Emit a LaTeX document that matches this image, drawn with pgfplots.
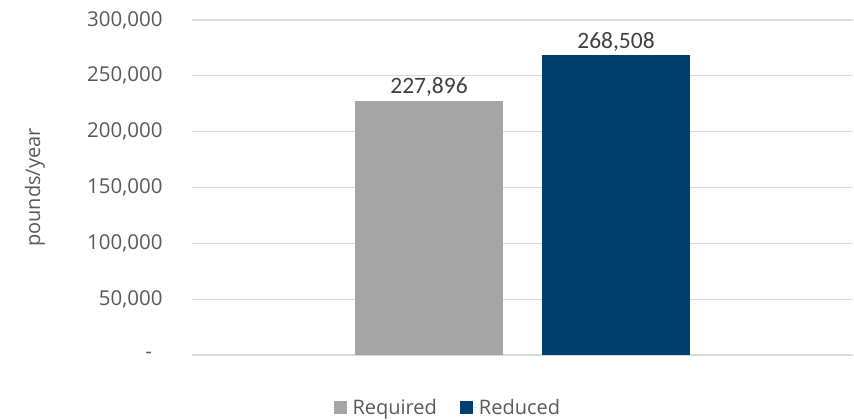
\documentclass[border=0pt]{standalone}
\usepackage{pgfplots}
\pgfplotsset{compat=1.18}
\usepackage{fontspec}
\setmainfont{Open Sans}
\newfontfamily\labfont{Carlito}
\definecolor{reqgray}{HTML}{A5A5A5}
\definecolor{redblue}{HTML}{003F6E}
\definecolor{gridc}{HTML}{D9D9D9}
\definecolor{txt}{HTML}{595959}
\definecolor{lab}{HTML}{404040}
\begin{document}
\begin{tikzpicture}[x=1pt,y=1pt]
\useasboundingbox (0,0) rectangle (854,420);
\begin{axis}[
  at={(192pt,65pt)}, anchor=south west,
  scale only axis, width=661pt, height=335pt,
  xmin=192, xmax=853, ymin=0, ymax=300000,
  axis line style={draw=none},
  xtick=\empty, scaled x ticks=false, scaled y ticks=false,
  ytick={0,50000,100000,150000,200000,250000,300000},
  yticklabels={\makebox[17pt][l]{-},{50,000},{100,000},{150,000},{200,000},{250,000},{300,000}},
  major tick length=0pt,
  yticklabel style={font=\fontsize{20.5}{22}\selectfont, text=txt, xshift=-26pt},
  ymajorgrids, grid style={gridc, line width=1.3pt},
  ybar, bar width=148, bar shift=0pt,
  point meta=explicit symbolic,
  nodes near coords,
  every node near coord/.append style={font=\labfont\fontsize{23.5}{26}\selectfont, text=lab},
  ylabel={pounds/year},
  ylabel style={at={(axis description cs:-0.2375,0.5)}, anchor=center, font=\fontsize{20}{22}\selectfont, text=txt},
  clip=false,
  legend style={at={(rel axis cs:0.387,-0.158)}, anchor=center, draw=none, fill=none,
    legend columns=2, font=\fontsize{20}{22}\selectfont, text=txt,
    /tikz/every even column/.append style={column sep=21pt}},
  legend image code/.code={\path[#1, draw=none] (0pt,-6.5pt) rectangle (13pt,6.5pt); \path (0pt,0pt) -- (17pt,0pt);},
]
\addplot[fill=reqgray, draw=none] coordinates {(429,227896) [{227,896}]};
\addlegendentry{Required}
\addplot[fill=redblue, draw=none] coordinates {(616,268508) [{268,508}]};
\addlegendentry{Reduced}
\end{axis}
\end{tikzpicture}
\end{document}
